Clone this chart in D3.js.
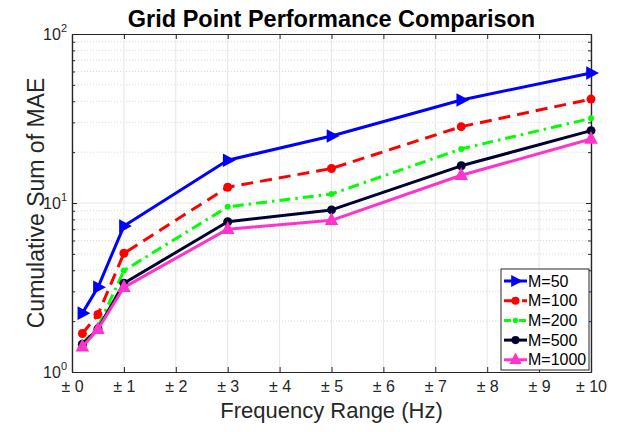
<!DOCTYPE html>
<html>
<head>
<meta charset="utf-8">
<script src="https://cdn.jsdelivr.net/npm/d3@7"></script>
<style>
  body { margin: 0; background: #fff; }
  text { font-family: "Liberation Sans", Arial, sans-serif; }
</style>
</head>
<body>
<div id="chart"></div>
<script>
// data
var freqs = [0.2, 0.5, 1, 3, 5, 7.5, 10];
var m50   = [2.23, 3.17, 7.3, 17.9, 24.9, 40.7, 58.8];
var m100  = [1.69, 2.19, 5.04, 12.4, 16.0, 28.3, 41.2];
var m200  = [1.48, 1.85, 3.98, 9.5, 11.3, 20.9, 31.7];
var m500  = [1.46, 1.80, 3.35, 7.75, 9.1, 16.6, 26.8];
var m1000 = [1.41, 1.79, 3.17, 7.0, 7.9, 14.6, 23.9];
var seriesNames = ["M=50", "M=100", "M=200", "M=500", "M=1000"];
var xTicks = [0, 1, 2, 3, 4, 5, 6, 7, 8, 9, 10];
var yDecades = [0, 1, 2];

var width = 625, height = 432;
var mLeft = 72, mRight = 591, mTop = 34, mBottom = 372;

var svg = d3.select("#chart").append("svg")
    .attr("width", width)
    .attr("height", height);

var xScale = d3.scaleLinear().domain([0, 10]).range([mLeft, mRight]);
var yScale = d3.scaleLog().domain([1, 100]).range([mBottom, mTop]);

// minor grid (dotted)
var minors = [];
[1, 10].forEach(function(d) { for (var k = 2; k <= 9; k++) minors.push(d * k); });
svg.append("g").selectAll("line").data(minors).enter().append("line")
    .attr("x1", mLeft).attr("x2", mRight)
    .attr("y1", function(d) { return yScale(d); })
    .attr("y2", function(d) { return yScale(d); })
    .attr("stroke", "#cfcfcf").attr("stroke-width", 0.8)
    .attr("stroke-dasharray", "1,2");

// major grid
svg.append("g").selectAll("line").data(xTicks).enter().append("line")
    .attr("x1", function(d) { return xScale(d); })
    .attr("x2", function(d) { return xScale(d); })
    .attr("y1", mTop).attr("y2", mBottom)
    .attr("stroke", "#e6e6e6").attr("stroke-width", 1);
svg.append("g").selectAll("line").data([10]).enter().append("line")
    .attr("x1", mLeft).attr("x2", mRight)
    .attr("y1", function(d) { return yScale(d); })
    .attr("y2", function(d) { return yScale(d); })
    .attr("stroke", "#e6e6e6").attr("stroke-width", 1);

// axes (box with inward ticks)
var axisColor = "#262626";
var gx = svg.append("g").attr("transform", "translate(0," + mBottom + ")")
    .call(d3.axisBottom(xScale).tickValues(xTicks).tickSizeInner(-5).tickSizeOuter(0).tickPadding(9)
        .tickFormat(function(d) { return "\u00B1 " + d; }));
var gxTop = svg.append("g").attr("transform", "translate(0," + mTop + ")")
    .call(d3.axisTop(xScale).tickValues(xTicks).tickSizeInner(-5).tickSizeOuter(0).tickFormat(""));
var gy = svg.append("g").attr("transform", "translate(" + mLeft + ",0)")
    .call(d3.axisLeft(yScale).tickValues(minors).tickSizeInner(-3).tickSizeOuter(0).tickFormat(""));
var gy2 = svg.append("g").attr("transform", "translate(" + mLeft + ",0)")
    .call(d3.axisLeft(yScale).tickValues([1, 10, 100]).tickSizeInner(-5).tickSizeOuter(0).tickFormat(""));
var gyR = svg.append("g").attr("transform", "translate(" + mRight + ",0)")
    .call(d3.axisRight(yScale).tickValues(minors).tickSizeInner(-3).tickSizeOuter(0).tickFormat(""));
var gyR2 = svg.append("g").attr("transform", "translate(" + mRight + ",0)")
    .call(d3.axisRight(yScale).tickValues([1, 10, 100]).tickSizeInner(-5).tickSizeOuter(0).tickFormat(""));
[gx, gxTop, gy, gy2, gyR, gyR2].forEach(function(g) {
    g.selectAll("path").attr("stroke", axisColor).attr("stroke-width", 1.2);
    g.selectAll("line").attr("stroke", axisColor);
});
gx.selectAll("text").attr("font-size", 16).attr("fill", axisColor)
    .attr("font-family", "Liberation Sans, Arial, sans-serif");

// y tick labels 10^n
var ylab = svg.append("g").selectAll("text").data(yDecades).enter().append("text")
    .attr("x", mLeft - 5)
    .attr("y", function(d) { return yScale(Math.pow(10, d)) + 6; })
    .attr("text-anchor", "end")
    .attr("fill", axisColor)
    .attr("font-size", 16);
ylab.append("tspan").text("10");
ylab.append("tspan").attr("dy", -8).attr("font-size", 11)
    .text(function(d) { return d; });

// title and axis labels
svg.append("text").attr("x", (mLeft + mRight) / 2).attr("y", 27)
    .attr("text-anchor", "middle").attr("font-weight", "bold")
    .attr("font-size", 23.5).attr("fill", "#000")
    .text("Grid Point Performance Comparison");
svg.append("text").attr("x", (mLeft + mRight) / 2).attr("y", 418)
    .attr("text-anchor", "middle").attr("font-size", 22).attr("fill", axisColor)
    .text("Frequency Range (Hz)");
svg.append("text")
    .attr("transform", "translate(44," + ((mTop + mBottom) / 2) + ") rotate(-90)")
    .attr("text-anchor", "middle").attr("font-size", 23).attr("fill", axisColor)
    .text("Cumulative Sum of MAE");

// series
var series = [
    { name: seriesNames[0], values: m50,   color: "#0000ff", dash: null,        marker: "right", size: 8 },
    { name: seriesNames[1], values: m100,  color: "#ff0000", dash: "12,7",      marker: "circle", size: 4.5 },
    { name: seriesNames[2], values: m200,  color: "#00ff00", dash: "11,5,2.5,5", marker: "circle", size: 3 },
    { name: seriesNames[3], values: m500,  color: "#000033", dash: null,        marker: "circle", size: 4.5 },
    { name: seriesNames[4], values: m1000, color: "#ff33cc", dash: null,        marker: "up", size: 8 }
];

var line = d3.line()
    .x(function(d) { return xScale(d[0]); })
    .y(function(d) { return yScale(d[1]); });

function drawMarker(g, type, cx, cy, s, color) {
    if (type === "circle") {
        g.append("circle").attr("cx", cx).attr("cy", cy).attr("r", s).attr("fill", color);
    } else if (type === "right") {
        g.append("path").attr("d", "M" + (cx + s) + "," + cy + "L" + (cx - s * 0.6) + "," + (cy - s * 0.85) +
            "L" + (cx - s * 0.6) + "," + (cy + s * 0.85) + "Z").attr("fill", color);
    } else if (type === "up") {
        g.append("path").attr("d", "M" + cx + "," + (cy - s) + "L" + (cx - s * 0.85) + "," + (cy + s * 0.6) +
            "L" + (cx + s * 0.85) + "," + (cy + s * 0.6) + "Z").attr("fill", color);
    }
}

series.forEach(function(s) {
    var pts = freqs.map(function(f, i) { return [f, s.values[i]]; });
    var g = svg.append("g");
    g.append("path").datum(pts).attr("d", line)
        .attr("fill", "none").attr("stroke", s.color).attr("stroke-width", 3)
        .attr("stroke-linejoin", "round")
        .attr("stroke-dasharray", s.dash);
    pts.forEach(function(p) {
        drawMarker(g, s.marker, xScale(p[0]), yScale(p[1]), s.size, s.color);
    });
});

// legend
var lg = svg.append("g");
lg.append("rect").attr("x", 501).attr("y", 269).attr("width", 88).attr("height", 101)
    .attr("fill", "#fff").attr("stroke", axisColor).attr("stroke-width", 1);
series.forEach(function(s, i) {
    var ly = 281 + i * 19.7;
    lg.append("line").attr("x1", 504).attr("x2", 527).attr("y1", ly).attr("y2", ly)
        .attr("stroke", s.color).attr("stroke-width", 3)
        .attr("stroke-dasharray", s.dash ? (i === 1 ? "11,7" : "7,3,2,3") : null);
    drawMarker(lg, s.marker, 515.5, ly, s.size * 0.9, s.color);
    lg.append("text").attr("x", 528).attr("y", ly + 5.5).attr("font-size", 16)
        .attr("fill", "#000").text(s.name);
});
</script>
</body>
</html>
